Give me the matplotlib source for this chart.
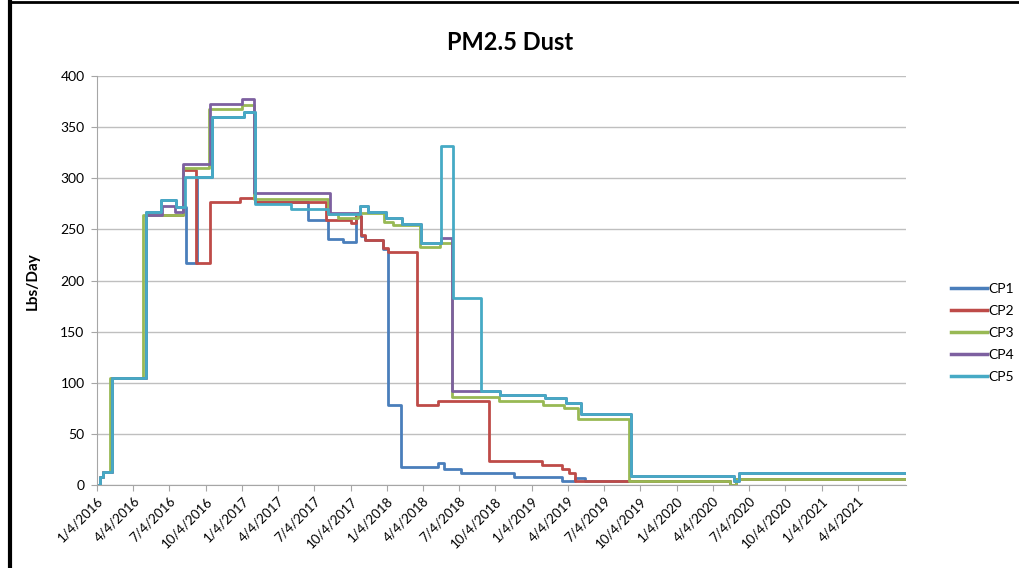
import pandas as pd
import matplotlib
matplotlib.use("Agg")
import matplotlib.pyplot as plt
from matplotlib.lines import Line2D

plt.rcParams["font.family"] = ["Lato", "DejaVu Sans"]

# step data (value holds from each date until the next)
cp1_dates = ["2016-01-04", "2016-01-11", "2016-01-19", "2016-02-11", "2016-05-07", "2016-06-14",
             "2016-07-22", "2016-08-15", "2016-09-12", "2016-10-21", "2017-01-08", "2017-02-05",
             "2017-06-18", "2017-08-08", "2017-09-15", "2017-10-19", "2017-10-31", "2017-11-09",
             "2017-12-25", "2018-01-06", "2018-02-09", "2018-05-13", "2018-05-28", "2018-07-10",
             "2018-11-20", "2019-03-21", "2019-04-24", "2019-05-18", "2019-09-06", "2020-05-17",
             "2020-06-01", "2021-08-04"]
cp1_vals = [0, 8, 13, 105, 267, 279, 272, 217, 301, 360, 365, 277, 259, 241, 238, 263, 244, 240,
            231, 78, 18, 22, 16, 12, 7.5, 4, 7, 3.5, 4.2, 0, 5.5, 5.5]

cp2_dates = ["2016-01-04", "2016-01-11", "2016-01-19", "2016-02-11", "2016-05-07", "2016-08-07",
             "2016-09-09", "2016-10-15", "2016-12-30", "2017-02-05", "2017-08-04", "2017-10-06",
             "2017-10-19", "2017-10-31", "2017-11-09", "2017-12-25", "2018-01-06", "2018-03-21",
             "2018-05-13", "2018-09-19", "2019-01-29", "2019-03-21", "2019-04-07", "2019-04-24",
             "2019-09-06", "2020-05-17", "2020-06-01", "2021-08-04"]
cp2_vals = [0, 8, 13, 105, 264, 308, 217, 277, 281, 277, 259, 256.5, 263, 244.5, 239.5, 231.5,
            228, 78, 82.5, 23, 19.5, 15.5, 11.5, 3.5, 4.2, 0, 5.5, 5.5]

cp3_dates = ["2016-01-04", "2016-01-11", "2016-01-19", "2016-02-06", "2016-04-30", "2016-08-07",
             "2016-10-13", "2017-01-04", "2017-02-02", "2017-08-08", "2017-09-03", "2017-10-24",
             "2017-12-28", "2018-01-18", "2018-03-28", "2018-05-17", "2018-06-16", "2018-10-12",
             "2019-02-01", "2019-03-25", "2019-05-01", "2019-09-06", "2020-05-17", "2020-06-01",
             "2021-08-04"]
cp3_vals = [0, 8, 13, 105, 264, 310, 368, 372, 280, 265, 261, 266, 257, 254, 233, 237, 86, 82.5,
            78, 75, 65, 4.2, 0, 5.5, 5.5]

cp4_dates = ["2016-01-04", "2016-01-11", "2016-01-19", "2016-02-11", "2016-05-07", "2016-06-17",
             "2016-07-19", "2016-08-07", "2016-10-16", "2017-01-04", "2017-02-02", "2017-08-14",
             "2017-10-27", "2017-11-17", "2018-01-02", "2018-02-11", "2018-03-30", "2018-05-20",
             "2018-06-18", "2018-10-16", "2019-02-06", "2019-03-30", "2019-05-07", "2019-09-11",
             "2020-05-28", "2020-06-10", "2021-08-04"]
cp4_vals = [0, 8, 13, 105, 264, 273, 267, 314, 373, 377.5, 286, 266, 273, 267, 261, 255.5, 237,
            242, 92, 88, 85, 80, 69, 9, 3.5, 11.4, 11.4]

cp5_dates = ["2016-01-04", "2016-01-11", "2016-01-19", "2016-02-11", "2016-05-07", "2016-06-14",
             "2016-07-22", "2016-08-13", "2016-10-21", "2017-01-08", "2017-02-05", "2017-05-08",
             "2017-08-08", "2017-10-27", "2017-11-17", "2018-01-02", "2018-02-11", "2018-03-30",
             "2018-05-20", "2018-06-20", "2018-08-28", "2018-10-16", "2019-02-06", "2019-03-30",
             "2019-05-07", "2019-09-11", "2020-05-28", "2020-06-10", "2021-08-04"]
cp5_vals = [0, 8, 13, 105, 267, 279, 272, 301.5, 360, 365, 275, 270, 265, 273, 267, 261, 255.5,
            237, 331.5, 182.5, 92, 88, 85, 80, 69, 9, 3.5, 11.4, 11.4]

series = [
    ("CP1", cp1_dates, cp1_vals, "#4A7EBB"),
    ("CP2", cp2_dates, cp2_vals, "#BE4B48"),
    ("CP3", cp3_dates, cp3_vals, "#98B954"),
    ("CP4", cp4_dates, cp4_vals, "#7D60A0"),
    ("CP5", cp5_dates, cp5_vals, "#46AAC5"),
]

tick_dates = pd.date_range("2016-01-01", "2021-04-01", freq="QS") + pd.Timedelta(days=3)
tick_labels = [f"{d.month}/{d.day}/{d.year}" for d in tick_dates]

fig = plt.figure(figsize=(10.19, 5.68), dpi=100)
ax = fig.add_axes([97 / 1019, 1 - 485 / 568, (906 - 97) / 1019, (485 - 76) / 568])

for name, d, v, c in series:
    ax.step(pd.to_datetime(d), v, where="post", color=c, lw=2.0, label=name)

ax.set_xlim(pd.Timestamp("2016-01-04"), pd.Timestamp("2021-08-04"))
ax.set_ylim(0, 400)
ax.set_yticks(range(0, 401, 50))
ax.set_xticks(tick_dates)
ax.set_xticklabels(tick_labels, rotation=45, ha="right", rotation_mode="anchor", fontsize=9.5)
ax.tick_params(axis="y", labelsize=10, length=4, color="#A6A6A6", pad=5)
ax.tick_params(axis="x", length=4, color="#A6A6A6", pad=3)
ax.grid(axis="y", color="#BFBFBF", lw=1)
ax.set_axisbelow(True)
for s in ["top", "right"]:
    ax.spines[s].set_visible(False)
for s in ["left", "bottom"]:
    ax.spines[s].set_color("#A6A6A6")

fig.text(510 / 1019, 1 - 42 / 568, "PM2.5 Dust", ha="center", va="center",
         fontsize=17, fontweight="bold")
fig.text(33 / 1019, 1 - 281 / 568, "Lbs/Day", ha="center", va="center", rotation=90,
         fontsize=11, fontweight="bold")

handles = [Line2D([], [], color=c, lw=2.5) for _, _, _, c in series]
fig.legend(handles, [s[0] for s in series], loc="center left",
           bbox_to_anchor=(938 / 1019, 1 - 333 / 568), frameon=False, fontsize=10,
           handlelength=2.6, handletextpad=0.1, labelspacing=0.72)

# frame around the picture
fig.add_artist(Line2D([10 / 1019, 10 / 1019], [0, 1 - 2 / 568], transform=fig.transFigure,
                      color="black", lw=3))
fig.add_artist(Line2D([10 / 1019, 1], [1 - 2 / 568, 1 - 2 / 568], transform=fig.transFigure,
                      color="black", lw=2))

fig.savefig("out.png", dpi=100)
